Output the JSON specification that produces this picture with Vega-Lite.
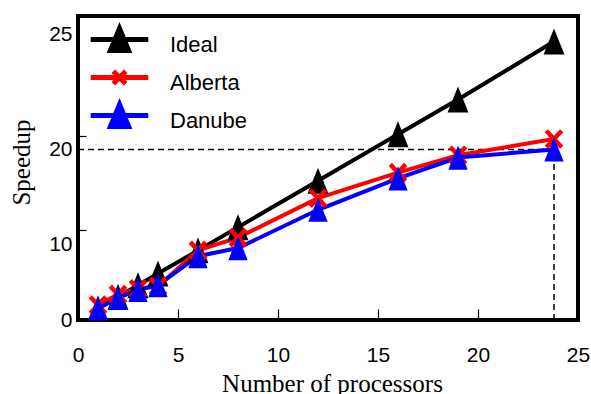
{
  "$schema": "https://vega.github.io/schema/vega-lite/v6.json",
  "width": 500,
  "height": 304,
  "autosize": {"type": "none"},
  "padding": {"left": 78, "top": 16, "right": 13, "bottom": 74},
  "background": "white",
  "config": {
    "view": {"stroke": "black", "strokeWidth": 4},
    "axis": {"grid": false, "domain": false}
  },
  "data": {
    "values": [
      {"series": "Ideal", "x": 1, "y": 1},
      {"series": "Ideal", "x": 2, "y": 2},
      {"series": "Ideal", "x": 3, "y": 3},
      {"series": "Ideal", "x": 4, "y": 4},
      {"series": "Ideal", "x": 6, "y": 6},
      {"series": "Ideal", "x": 8, "y": 8},
      {"series": "Ideal", "x": 12, "y": 12},
      {"series": "Ideal", "x": 16, "y": 16},
      {"series": "Ideal", "x": 19, "y": 19},
      {"series": "Ideal", "x": 23.8, "y": 24},
      {"series": "Alberta", "x": 1, "y": 1.3},
      {"series": "Alberta", "x": 2, "y": 2.2},
      {"series": "Alberta", "x": 3, "y": 2.7},
      {"series": "Alberta", "x": 4, "y": 2.9},
      {"series": "Alberta", "x": 6, "y": 6.0},
      {"series": "Alberta", "x": 8, "y": 7.1},
      {"series": "Alberta", "x": 12, "y": 10.5},
      {"series": "Alberta", "x": 16, "y": 12.7},
      {"series": "Alberta", "x": 19, "y": 14.2},
      {"series": "Alberta", "x": 23.8, "y": 15.6},
      {"series": "Danube", "x": 1, "y": 1.0},
      {"series": "Danube", "x": 2, "y": 1.9},
      {"series": "Danube", "x": 3, "y": 2.6},
      {"series": "Danube", "x": 4, "y": 3.0},
      {"series": "Danube", "x": 6, "y": 5.5},
      {"series": "Danube", "x": 8, "y": 6.2},
      {"series": "Danube", "x": 12, "y": 9.5},
      {"series": "Danube", "x": 16, "y": 12.2},
      {"series": "Danube", "x": 19, "y": 14.0},
      {"series": "Danube", "x": 23.8, "y": 14.7}
    ]
  },
  "encoding": {
    "x": {
      "field": "x",
      "type": "quantitative",
      "scale": {"domain": [0, 25], "nice": false, "zero": false},
      "axis": {
        "values": [0, 5, 10, 15, 20, 25],
        "tickSize": -11,
        "tickWidth": 1.2,
        "tickColor": "black",
        "labelFlush": false,
        "labelFont": "Liberation Sans",
        "labelFontSize": 21,
        "labelColor": "black",
        "labelPadding": 35,
        "labelBaseline": "top",
        "title": "Number of processors",
        "titleFont": "Liberation Serif",
        "titleFontSize": 25,
        "titleFontWeight": "normal",
        "titleColor": "black",
        "titleX": 254,
        "titleY": 51,
        "titleBaseline": "top",
        "titleAlign": "center"
      }
    },
    "y": {
      "field": "y",
      "type": "quantitative",
      "scale": {"domain": [0, 26.2], "nice": false, "zero": false},
      "axis": {
        "values": [0, 6.55, 7.76, 14.7, 15.86, 24.6],
        "labelExpr": "datum.value == 0 ? '0' : datum.value == 6.55 ? '10' : datum.value == 14.7 ? '20' : datum.value == 24.6 ? '25' : ''",
        "tickSize": -8,
        "tickWidth": 1.2,
        "tickColor": "black",
        "tickOpacity": {"condition": {"test": "datum.value == 7.76 || datum.value == 15.86", "value": 1}, "value": 0},
        "labelFlush": false,
        "labelFont": "Liberation Sans",
        "labelFontSize": 21,
        "labelColor": "black",
        "labelPadding": 14,
        "title": "Speedup",
        "titleFont": "Liberation Serif",
        "titleFontSize": 25,
        "titleFontWeight": "normal",
        "titleColor": "black",
        "titleAngle": 270,
        "titleX": -69,
        "titleY": 146,
        "titleBaseline": "top",
        "titleAlign": "center"
      }
    },
    "color": {
      "field": "series",
      "type": "nominal",
      "scale": {"domain": ["Ideal", "Alberta", "Danube"], "range": ["#000000", "#ff0000", "#0000ff"]},
      "legend": {
        "orient": "none",
        "legendX": 27,
        "legendY": 9,
        "title": null,
        "padding": 0,
        "labelFont": "Liberation Sans",
        "labelFontSize": 22,
        "labelColor": "black",
        "labelOffset": 36,
        "rowPadding": 0,
        "symbolSize": 576,
        "symbolStrokeWidth": 5,
        "encode": {
          "symbols": {
            "update": {
              "shape": {"signal": "datum.value === 'Alberta' ? 'M-2.4,0L2.4,0M-0.52,-0.52L0.52,0.52M-0.52,0.52L0.52,-0.52' : 'M-2.4,0L2.4,0M0,-0.92L0.76,0.92L-0.76,0.92Z'"},
              "fill": {"scale": "color", "field": "value"},
              "stroke": {"scale": "color", "field": "value"},
              "strokeWidth": {"value": 5},
              "size": {"value": 576},
              "opacity": {"value": 1},
              "fillOpacity": {"value": 1},
              "strokeOpacity": {"value": 1}
            }
          },
          "labels": {"update": {"dy": {"value": 5}}}
        }
      }
    }
  },
  "layer": [
    {
      "transform": [{"filter": "datum.series === 'Danube' && datum.x == 23.8"}],
      "mark": {"type": "rule", "color": "black", "strokeWidth": 1.5, "strokeDash": [6, 4]},
      "encoding": {
        "x": {"datum": 0, "type": "quantitative"},
        "x2": {"field": "x"},
        "y": {"field": "y", "type": "quantitative"},
        "color": {"value": "black"}
      }
    },
    {
      "transform": [{"filter": "datum.series === 'Danube' && datum.x == 23.8"}],
      "mark": {"type": "rule", "color": "black", "strokeWidth": 1.5, "strokeDash": [6, 4]},
      "encoding": {
        "x": {"field": "x", "type": "quantitative"},
        "y": {"datum": 0, "type": "quantitative"},
        "y2": {"field": "y"},
        "color": {"value": "black"}
      }
    },
    {
      "mark": {"type": "line", "strokeWidth": 4}
    },
    {
      "transform": [{"filter": "datum.series === 'Ideal'"}],
      "mark": {"type": "point", "filled": true, "size": 484, "opacity": 1, "shape": "M0,-1.18L0.95,1.18L-0.95,1.18Z"}
    },
    {
      "transform": [{"filter": "datum.series === 'Alberta'"}],
      "mark": {"type": "point", "filled": false, "size": 484, "strokeWidth": 4.5, "opacity": 1, "shape": "M-0.7,-0.75L0.7,0.75M-0.7,0.75L0.7,-0.75"}
    },
    {
      "transform": [{"filter": "datum.series === 'Danube'"}],
      "mark": {"type": "point", "filled": true, "size": 484, "opacity": 1, "shape": "M0,-1.1L0.88,1.1L-0.88,1.1Z"}
    }
  ]
}
